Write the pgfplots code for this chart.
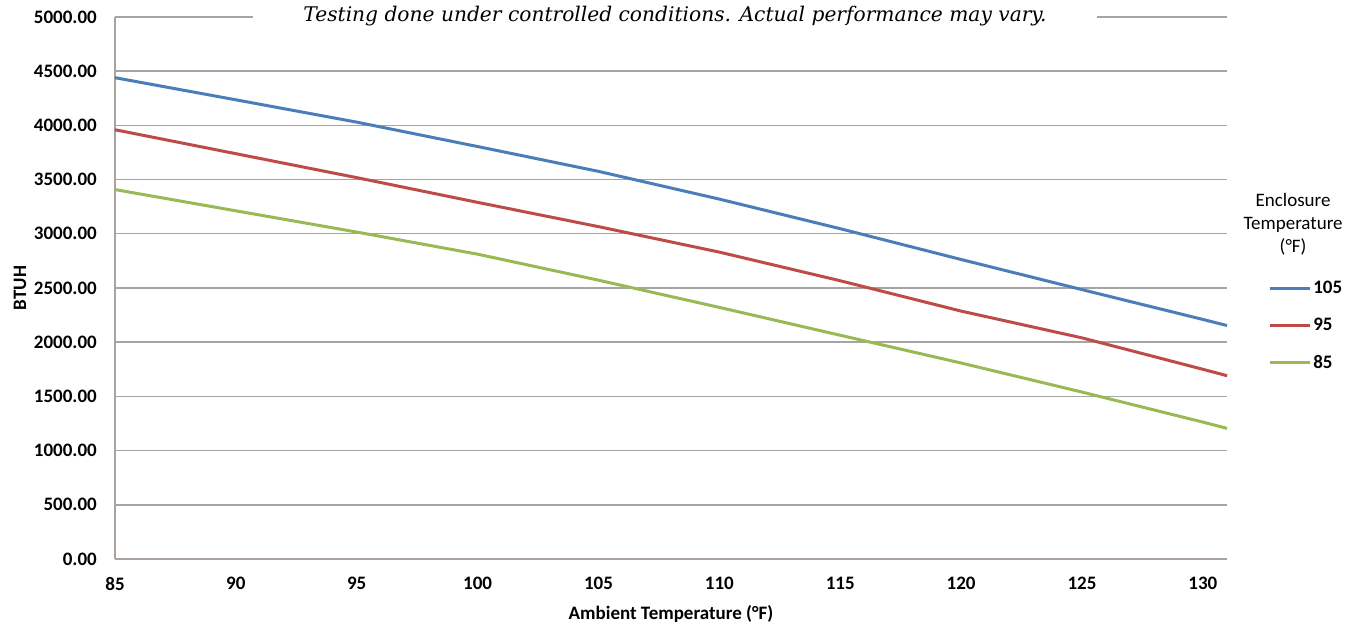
\documentclass[border=0pt]{standalone}
\usepackage{fontspec}
\setmainfont{Carlito}
\newfontfamily\titlefont{DejaVu Serif}
\usepackage{pgfplots}
\pgfplotsset{compat=1.18}
\definecolor{cblue}{HTML}{4A7EBB}
\definecolor{cred}{HTML}{BE4B48}
\definecolor{cgreen}{HTML}{98B954}
\definecolor{gridc}{RGB}{165,165,165}
\definecolor{axc}{RGB}{172,162,158}
\begin{document}
\begin{tikzpicture}
\path[use as bounding box] (-115bp,-68bp) rectangle (1246bp,559bp);
\begin{axis}[
  scale only axis, width=1112bp, height=542bp,
  xmin=85, xmax=131, ymin=0, ymax=5000,
  xtick={85,90,...,130}, ytick={0,500,...,5000},
  axis lines*=left, axis line style={-, draw=axc, line width=1.6bp},
  ymajorgrids, grid style={draw=gridc, line width=1.4bp},
  major tick length=0pt,
  clip=false,
  scaled y ticks=false,
  /pgf/number format/assume math mode=true,
  ticklabel style={font=\fontsize{19bp}{22bp}\selectfont\bfseries, inner sep=0pt},
  yticklabel style={/pgf/number format/fixed, /pgf/number format/fixed zerofill, /pgf/number format/precision=2, /pgf/number format/1000 sep={}, xshift=-18bp},
  xticklabel style={yshift=-18bp},
  xlabel={Ambient Temperature (°F)},
  xlabel style={at={(axis description cs:0.5,0)}, anchor=base, yshift=-60bp, font=\fontsize{19bp}{22bp}\selectfont\bfseries},
  ylabel={BTUH},
  ylabel style={at={(axis description cs:-0.0854,0.5)}, anchor=center, font=\fontsize{19bp}{22bp}\selectfont\bfseries},
  legend cell align=left,
  legend style={at={(axis description cs:1.0369,0.5148)}, anchor=north west, draw=none, fill=none, inner sep=0pt, row sep=21bp, column sep=1bp, font=\fontsize{19bp}{22bp}\selectfont\bfseries, nodes={inner sep=1bp}},
  legend image code/.code={\draw[#1] (0bp,0bp) -- (40bp,0bp);},
]
\addplot[cblue, line width=3bp, line join=round] coordinates {(85,4440)(90,4236)(95,4030)(100,3805)(105,3576)(110,3320)(115,3047)(120,2763)(125,2485)(130,2210)(131,2154)};
\addlegendentry{105}
\addplot[cred, line width=3bp, line join=round] coordinates {(85,3960)(90,3739)(95,3518)(100,3290)(105,3066)(110,2831)(115,2567)(120,2287)(125,2040)(130,1750)(131,1691)};
\addlegendentry{95}
\addplot[cgreen, line width=3bp, line join=round] coordinates {(85,3408)(90,3212)(95,3016)(100,2812)(105,2572)(110,2321)(115,2064)(120,1808)(125,1540)(130,1263)(131,1205)};
\addlegendentry{85}
\node[fill=white, inner xsep=50bp, inner ysep=3bp, anchor=base, font=\titlefont\itshape\fontsize{20.2bp}{23bp}\selectfont] at (axis description cs:0.5036,0.9926) {Testing done under controlled conditions. Actual performance may vary.};
\node[align=center, anchor=center, font=\fontsize{19bp}{23bp}\selectfont] at (axis description cs:1.0594,0.618) {Enclosure\\Temperature\\(°F)};
\end{axis}
\end{tikzpicture}
\end{document}
